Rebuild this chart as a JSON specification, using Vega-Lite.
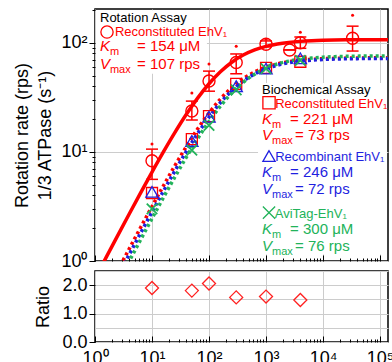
{
  "$schema": "https://vega.github.io/schema/vega-lite/v6.json",
  "padding": {"left": 13, "top": 8, "right": 0, "bottom": 0},
  "spacing": -3,
  "config": {
    "font": "Liberation Sans",
    "view": {"stroke": "black", "strokeWidth": 1.5},
    "axis": {
      "labelFont": "Liberation Sans", "labelFontSize": 18, "labelColor": "black",
      "titleFont": "Liberation Sans", "titleFontSize": 18, "titleFontWeight": "normal", "titleColor": "black",
      "tickColor": "black", "tickWidth": 1, "gridColor": "#cccccc", "gridWidth": 1, "domain": false
    }
  },
  "datasets": {
    "fits": [
      {"conc":1,"rate":0.690,"series":"Rotation"},{"conc":1.585,"rate":1.090,"series":"Rotation"},{"conc":2.512,"rate":1.717,"series":"Rotation"},{"conc":3.981,"rate":2.696,"series":"Rotation"},{"conc":6.31,"rate":4.211,"series":"Rotation"},{"conc":10,"rate":6.524,"series":"Rotation"},{"conc":15.85,"rate":9.985,"series":"Rotation"},{"conc":25.12,"rate":15.005,"series":"Rotation"},{"conc":39.81,"rate":21.979,"series":"Rotation"},{"conc":63.1,"rate":31.099,"series":"Rotation"},{"conc":100,"rate":42.126,"series":"Rotation"},{"conc":158.5,"rate":54.269,"series":"Rotation"},{"conc":251.2,"rate":66.333,"series":"Rotation"},{"conc":398.1,"rate":77.155,"series":"Rotation"},{"conc":631,"rate":86.008,"series":"Rotation"},{"conc":1000,"rate":92.721,"series":"Rotation"},{"conc":1585,"rate":97.524,"series":"Rotation"},{"conc":2512,"rate":100.82,"series":"Rotation"},{"conc":3981,"rate":103.015,"series":"Rotation"},{"conc":6310,"rate":104.451,"series":"Rotation"},{"conc":10000,"rate":105.377,"series":"Rotation"},{"conc":15850,"rate":105.970,"series":"Rotation"},{"conc":25120,"rate":106.348,"series":"Rotation"},{"conc":39810,"rate":106.588,"series":"Rotation"},{"conc":63100,"rate":106.739,"series":"Rotation"},{"conc":100000,"rate":106.836,"series":"Rotation"},{"conc":158500,"rate":106.896,"series":"Rotation"},
      {"conc":1,"rate":0.329,"series":"Reconstituted"},{"conc":1.585,"rate":0.5198,"series":"Reconstituted"},{"conc":2.512,"rate":0.8204,"series":"Reconstituted"},{"conc":3.981,"rate":1.2918,"series":"Reconstituted"},{"conc":6.31,"rate":2.0263,"series":"Reconstituted"},{"conc":10,"rate":3.1602,"series":"Reconstituted"},{"conc":15.85,"rate":4.8849,"series":"Reconstituted"},{"conc":25.12,"rate":7.4504,"series":"Reconstituted"},{"conc":39.81,"rate":11.143,"series":"Reconstituted"},{"conc":63.1,"rate":16.213,"series":"Reconstituted"},{"conc":100,"rate":22.741,"series":"Reconstituted"},{"conc":158.5,"rate":30.488,"series":"Reconstituted"},{"conc":251.2,"rate":38.834,"series":"Reconstituted"},{"conc":398.1,"rate":46.942,"series":"Reconstituted"},{"conc":631,"rate":54.064,"series":"Reconstituted"},{"conc":1000,"rate":59.787,"series":"Reconstituted"},{"conc":1585,"rate":64.067,"series":"Reconstituted"},{"conc":2512,"rate":67.097,"series":"Reconstituted"},{"conc":3981,"rate":69.161,"series":"Reconstituted"},{"conc":6310,"rate":70.530,"series":"Reconstituted"},{"conc":10000,"rate":71.422,"series":"Reconstituted"},{"conc":15850,"rate":71.996,"series":"Reconstituted"},{"conc":25120,"rate":72.363,"series":"Reconstituted"},{"conc":39810,"rate":72.597,"series":"Reconstituted"},{"conc":63100,"rate":72.745,"series":"Reconstituted"},{"conc":100000,"rate":72.839,"series":"Reconstituted"},{"conc":158500,"rate":72.898,"series":"Reconstituted"},
      {"conc":1,"rate":0.2915,"series":"Recombinant"},{"conc":1.585,"rate":0.4609,"series":"Recombinant"},{"conc":2.512,"rate":0.7278,"series":"Recombinant"},{"conc":3.981,"rate":1.1466,"series":"Recombinant"},{"conc":6.31,"rate":1.8005,"series":"Recombinant"},{"conc":10,"rate":2.8125,"series":"Recombinant"},{"conc":15.85,"rate":4.3580,"series":"Recombinant"},{"conc":25.12,"rate":6.6707,"series":"Recombinant"},{"conc":39.81,"rate":10.029,"series":"Recombinant"},{"conc":63.1,"rate":14.698,"series":"Recombinant"},{"conc":100,"rate":20.809,"series":"Recombinant"},{"conc":158.5,"rate":28.212,"series":"Recombinant"},{"conc":251.2,"rate":36.376,"series":"Recombinant"},{"conc":398.1,"rate":44.502,"series":"Recombinant"},{"conc":631,"rate":51.803,"series":"Recombinant"},{"conc":1000,"rate":57.785,"series":"Recombinant"},{"conc":1585,"rate":62.326,"series":"Recombinant"},{"conc":2512,"rate":65.578,"series":"Recombinant"},{"conc":3981,"rate":67.810,"series":"Recombinant"},{"conc":6310,"rate":69.298,"series":"Recombinant"},{"conc":10000,"rate":70.271,"series":"Recombinant"},{"conc":15850,"rate":70.899,"series":"Recombinant"},{"conc":25120,"rate":71.302,"series":"Recombinant"},{"conc":39810,"rate":71.558,"series":"Recombinant"},{"conc":63100,"rate":71.720,"series":"Recombinant"},{"conc":100000,"rate":71.823,"series":"Recombinant"},{"conc":158500,"rate":71.888,"series":"Recombinant"},
      {"conc":1,"rate":0.2525,"series":"AviTag"},{"conc":1.585,"rate":0.3994,"series":"AviTag"},{"conc":2.512,"rate":0.6311,"series":"AviTag"},{"conc":3.981,"rate":0.9953,"series":"AviTag"},{"conc":6.31,"rate":1.5655,"series":"AviTag"},{"conc":10,"rate":2.4516,"series":"AviTag"},{"conc":15.85,"rate":3.8136,"series":"AviTag"},{"conc":25.12,"rate":5.8718,"series":"AviTag"},{"conc":39.81,"rate":8.9038,"series":"AviTag"},{"conc":63.1,"rate":13.207,"series":"AviTag"},{"conc":100,"rate":19.0,"series":"AviTag"},{"conc":158.5,"rate":26.272,"series":"AviTag"},{"conc":251.2,"rate":34.635,"series":"AviTag"},{"conc":398.1,"rate":43.341,"series":"AviTag"},{"conc":631,"rate":51.509,"series":"AviTag"},{"conc":1000,"rate":58.462,"series":"AviTag"},{"conc":1585,"rate":63.904,"series":"AviTag"},{"conc":2512,"rate":67.892,"series":"AviTag"},{"conc":3981,"rate":70.674,"series":"AviTag"},{"conc":6310,"rate":72.551,"series":"AviTag"},{"conc":10000,"rate":73.786,"series":"AviTag"},{"conc":15850,"rate":74.588,"series":"AviTag"},{"conc":25120,"rate":75.103,"series":"AviTag"},{"conc":39810,"rate":75.432,"series":"AviTag"},{"conc":63100,"rate":75.640,"series":"AviTag"},{"conc":100000,"rate":75.773,"series":"AviTag"},{"conc":158500,"rate":75.857,"series":"AviTag"}
    ],
    "rot": [
      {"conc":10,"rate":8.3,"lo":5.6,"hi":10.6,"top":11.8},
      {"conc":50,"rate":23.7,"lo":19.6,"hi":29.2,"top":34.6},
      {"conc":100,"rate":44.6,"lo":36,"hi":55,"top":64},
      {"conc":300,"rate":66,"lo":52,"hi":79,"top":93},
      {"conc":1000,"rate":97,"lo":92,"hi":104,"top":108},
      {"conc":2600,"rate":86,"lo":86,"hi":86},
      {"conc":4000,"rate":100,"lo":89,"hi":113,"top":125},
      {"conc":33000,"rate":110,"lo":84,"hi":142,"top":179}
    ],
    "bio": [
      {"conc":10,"rate":4.2,"series":"Reconstituted"},{"conc":50,"rate":13.1,"series":"Reconstituted"},{"conc":100,"rate":21.3,"series":"Reconstituted"},{"conc":300,"rate":42,"series":"Reconstituted"},{"conc":1000,"rate":59,"series":"Reconstituted"},{"conc":4000,"rate":67,"series":"Reconstituted"},
      {"conc":10,"rate":4.3,"series":"Recombinant"},{"conc":50,"rate":12.6,"series":"Recombinant"},{"conc":100,"rate":21,"series":"Recombinant"},{"conc":300,"rate":40,"series":"Recombinant"},{"conc":1000,"rate":58,"series":"Recombinant"},{"conc":4000,"rate":72,"series":"Recombinant"},
      {"conc":10,"rate":3.0,"series":"AviTag"},{"conc":50,"rate":10.4,"series":"AviTag"},{"conc":100,"rate":17.5,"series":"AviTag"},{"conc":300,"rate":37,"series":"AviTag"},{"conc":1000,"rate":58,"series":"AviTag"},{"conc":4000,"rate":69,"series":"AviTag"}
    ],
    "ratio": [
      {"conc":10,"ratio":1.90},{"conc":50,"ratio":1.81},{"conc":100,"ratio":2.06},{"conc":300,"ratio":1.57},{"conc":1000,"ratio":1.60},{"conc":4000,"ratio":1.48}
    ],
    "boxes": [
      {"conc":1.04,"conc2":92,"rate":52,"rate2":199},
      {"conc":724,"conc2":132000,"rate":1.15,"rate2":42.7}
    ],
    "keys": [
      {"series":"Rotation","conc":1.624,"rate":125.4},
      {"series":"Reconstituted","conc":1129,"rate":28.2},
      {"series":"Recombinant","conc":1129,"rate":9.17},
      {"series":"AviTag","conc":1129,"rate":2.775}
    ],
    "labels": [
      {"kind":"head","series":"Header","text":"Rotation Assay","conc":1.224,"rate":155.7},
      {"kind":"head","series":"Rotation","text":"Reconstituted EhV₁","conc":2.24,"rate":115},
      {"kind":"sym","series":"Rotation","text":"K","conc":1.224,"rate":84},
      {"kind":"sub","series":"Rotation","text":"m","conc":1.83,"rate":84},
      {"kind":"val","series":"Rotation","text":"= 154 μM","conc":5.46,"rate":84},
      {"kind":"sym","series":"Rotation","text":"V","conc":1.224,"rate":57.4},
      {"kind":"sub","series":"Rotation","text":"max","conc":1.83,"rate":57.4},
      {"kind":"val","series":"Rotation","text":"= 107 rps","conc":5.46,"rate":57.4},
      {"kind":"head","series":"Header","text":"Biochemical Assay","conc":851,"rate":33.9},
      {"kind":"head","series":"Reconstituted","text":"Reconstituted EhV₁","conc":1450,"rate":25.4},
      {"kind":"sym","series":"Reconstituted","text":"K","conc":851,"rate":17.9},
      {"kind":"sub","series":"Reconstituted","text":"m","conc":1274,"rate":17.9},
      {"kind":"val","series":"Reconstituted","text":"= 221 μM","conc":2637,"rate":17.9},
      {"kind":"sym","series":"Reconstituted","text":"V","conc":851,"rate":12.8},
      {"kind":"sub","series":"Reconstituted","text":"max","conc":1274,"rate":12.8},
      {"kind":"val","series":"Reconstituted","text":"= 73 rps","conc":3228,"rate":12.8},
      {"kind":"head","series":"Recombinant","text":"Recombinant EhV₁","conc":1450,"rate":8.26},
      {"kind":"sym","series":"Recombinant","text":"K","conc":851,"rate":5.89},
      {"kind":"sub","series":"Recombinant","text":"m","conc":1274,"rate":5.89},
      {"kind":"val","series":"Recombinant","text":"= 246 μM","conc":2637,"rate":5.89},
      {"kind":"sym","series":"Recombinant","text":"V","conc":851,"rate":4.09},
      {"kind":"sub","series":"Recombinant","text":"max","conc":1274,"rate":4.09},
      {"kind":"val","series":"Recombinant","text":"= 72 rps","conc":3228,"rate":4.09},
      {"kind":"head","series":"AviTag","text":"AviTag-EhV₁","conc":1420,"rate":2.50},
      {"kind":"sym","series":"AviTag","text":"K","conc":851,"rate":1.76},
      {"kind":"sub","series":"AviTag","text":"m","conc":1274,"rate":1.76},
      {"kind":"val","series":"AviTag","text":"= 300 μM","conc":2637,"rate":1.76},
      {"kind":"sym","series":"AviTag","text":"V","conc":851,"rate":1.24},
      {"kind":"sub","series":"AviTag","text":"max","conc":1274,"rate":1.24},
      {"kind":"val","series":"AviTag","text":"= 76 rps","conc":3228,"rate":1.24}
    ]
  },
  "vconcat": [
    {
      "width": 293,
      "height": 252,
      "encoding": {
        "x": {"field": "conc", "type": "quantitative",
          "scale": {"type": "log", "domain": [1, 138000], "nice": false},
          "axis": {"title": null, "labels": false, "domain": false, "grid": true,
            "values": [1,2,3,4,5,6,7,8,9,10,20,30,40,50,60,70,80,90,100,200,300,400,500,600,700,800,900,1000,2000,3000,4000,5000,6000,7000,8000,9000,10000,20000,30000,40000,50000,60000,70000,80000,90000,100000],
            "tickSize": {"condition": {"test": "abs(log(datum.value)/LN10 - round(log(datum.value)/LN10)) < 0.001", "value": -6}, "value": -3},
            "gridOpacity": {"condition": {"test": "abs(log(datum.value)/LN10 - round(log(datum.value)/LN10)) < 0.001", "value": 1}, "value": 0}}},
        "y": {"field": "rate", "type": "quantitative",
          "scale": {"type": "log", "domain": [1, 204], "nice": false},
          "axis": {"title": ["Rotation rate (rps)", "1/3 ATPase (s⁻¹)"], "titleLineHeight": 23, "titlePadding": 6,
            "domain": false, "grid": true, "labelPadding": 2,
            "values": [1,2,3,4,5,6,7,8,9,10,20,30,40,50,60,70,80,90,100,200],
            "labelExpr": "abs(log(datum.value)/LN10 - round(log(datum.value)/LN10)) < 0.001 ? '10' + ['⁰','¹','²','³','⁴','⁵'][round(log(datum.value)/LN10)] : ''",
            "tickSize": {"condition": {"test": "abs(log(datum.value)/LN10 - round(log(datum.value)/LN10)) < 0.001", "value": 6}, "value": 3},
            "gridOpacity": {"condition": {"test": "abs(log(datum.value)/LN10 - round(log(datum.value)/LN10)) < 0.001", "value": 1}, "value": 0}}}
      },
      "layer": [
        {"data": {"name": "boxes"}, "mark": {"type": "rect", "fill": "white", "strokeWidth": 0},
          "encoding": {"x2": {"field": "conc2"}, "y2": {"field": "rate2"}}},
        {"data": {"name": "fits"}, "transform": [{"filter": "datum.series == 'Rotation'"}],
          "mark": {"type": "line", "clip": true, "interpolate": "monotone", "strokeWidth": 3.5, "color": "#ff0000"},
          "encoding": {}},
        {"data": {"name": "fits"}, "transform": [{"filter": "datum.series == 'Reconstituted'"}],
          "mark": {"type": "line", "clip": true, "interpolate": "monotone", "strokeWidth": 3.5, "strokeDash": [3, 3], "strokeDashOffset": 0, "color": "#ff0000"},
          "encoding": {}},
        {"data": {"name": "fits"}, "transform": [{"filter": "datum.series == 'Recombinant'"}],
          "mark": {"type": "line", "clip": true, "interpolate": "monotone", "strokeWidth": 3.5, "strokeDash": [3, 3], "strokeDashOffset": 3, "color": "#1f1fe0"},
          "encoding": {}},
        {"data": {"name": "fits"}, "transform": [{"filter": "datum.series == 'AviTag'"}],
          "mark": {"type": "line", "clip": true, "interpolate": "monotone", "strokeWidth": 3.5, "strokeDash": [3, 3], "strokeDashOffset": 1.5, "color": "#22b35a"},
          "encoding": {}},
        {"data": {"name": "bio"}, "transform": [{"filter": "datum.series == 'Reconstituted'"}],
          "mark": {"type": "point", "shape": "square", "size": 121, "filled": false, "strokeWidth": 1.3, "color": "#ff0000", "opacity": 1}},
        {"data": {"name": "bio"}, "transform": [{"filter": "datum.series == 'Recombinant'"}],
          "mark": {"type": "point", "shape": "triangle-up", "size": 150, "filled": false, "strokeWidth": 1.3, "color": "#1f1fe0", "opacity": 1}},
        {"data": {"name": "bio"}, "transform": [{"filter": "datum.series == 'AviTag'"}],
          "mark": {"type": "point", "shape": "M-1,-1L1,1M1,-1L-1,1", "size": 110, "filled": false, "strokeWidth": 1.8, "color": "#22b35a", "opacity": 1}},
        {"data": {"name": "rot"},
          "mark": {"type": "rule", "color": "#ff0000", "strokeWidth": 1.5},
          "encoding": {"y": {"field": "lo", "type": "quantitative", "scale": {"type": "log", "domain": [1, 204], "nice": false}}, "y2": {"field": "hi"}}},
        {"data": {"name": "rot"},
          "mark": {"type": "tick", "orient": "horizontal", "size": 12, "thickness": 1.5, "color": "#ff0000", "opacity": 1},
          "encoding": {"y": {"field": "hi", "type": "quantitative", "scale": {"type": "log", "domain": [1, 204], "nice": false}}}},
        {"data": {"name": "rot"},
          "mark": {"type": "tick", "orient": "horizontal", "size": 12, "thickness": 1.5, "color": "#ff0000", "opacity": 1},
          "encoding": {"y": {"field": "lo", "type": "quantitative", "scale": {"type": "log", "domain": [1, 204], "nice": false}}}},
        {"data": {"name": "rot"},
          "mark": {"type": "point", "shape": "circle", "size": 9, "filled": true, "color": "#ff0000", "opacity": 1},
          "encoding": {"y": {"field": "top", "type": "quantitative", "scale": {"type": "log", "domain": [1, 204], "nice": false}}}},
        {"data": {"name": "rot"},
          "mark": {"type": "point", "shape": "circle", "size": 144, "filled": false, "strokeWidth": 1.4, "color": "#ff0000", "opacity": 1}},
        {"data": {"name": "keys"},
          "mark": {"type": "point", "filled": false, "size": 150, "strokeWidth": 1.3, "opacity": 1},
          "encoding": {
            "shape": {"field": "series", "type": "nominal", "legend": null,
              "scale": {"domain": ["Rotation", "Reconstituted", "Recombinant", "AviTag"], "range": ["circle", "square", "triangle-up", "M-1,-1L1,1M1,-1L-1,1"]}},
            "color": {"field": "series", "type": "nominal", "legend": null,
              "scale": {"domain": ["Rotation", "Reconstituted", "Recombinant", "AviTag", "Header"], "range": ["#ff0000", "#ff0000", "#1f1fe0", "#22b35a", "#000000"]}}}},
        {"data": {"name": "labels"}, "transform": [{"filter": "datum.kind == 'head'"}],
          "mark": {"type": "text", "align": "left", "baseline": "alphabetic", "fontSize": 13, "font": "Liberation Sans"},
          "encoding": {"text": {"field": "text"},
            "color": {"field": "series", "type": "nominal", "legend": null,
              "scale": {"domain": ["Rotation", "Reconstituted", "Recombinant", "AviTag", "Header"], "range": ["#ff0000", "#ff0000", "#1f1fe0", "#22b35a", "#000000"]}}}},
        {"data": {"name": "labels"}, "transform": [{"filter": "datum.kind == 'sym'"}],
          "mark": {"type": "text", "align": "left", "baseline": "alphabetic", "fontSize": 15, "fontStyle": "italic", "font": "Liberation Sans"},
          "encoding": {"text": {"field": "text"},
            "color": {"field": "series", "type": "nominal", "legend": null,
              "scale": {"domain": ["Rotation", "Reconstituted", "Recombinant", "AviTag", "Header"], "range": ["#ff0000", "#ff0000", "#1f1fe0", "#22b35a", "#000000"]}}}},
        {"data": {"name": "labels"}, "transform": [{"filter": "datum.kind == 'sub'"}],
          "mark": {"type": "text", "align": "left", "baseline": "alphabetic", "fontSize": 11, "dy": 4, "font": "Liberation Sans"},
          "encoding": {"text": {"field": "text"},
            "color": {"field": "series", "type": "nominal", "legend": null,
              "scale": {"domain": ["Rotation", "Reconstituted", "Recombinant", "AviTag", "Header"], "range": ["#ff0000", "#ff0000", "#1f1fe0", "#22b35a", "#000000"]}}}},
        {"data": {"name": "labels"}, "transform": [{"filter": "datum.kind == 'val'"}],
          "mark": {"type": "text", "align": "left", "baseline": "alphabetic", "fontSize": 15, "font": "Liberation Sans"},
          "encoding": {"text": {"field": "text"},
            "color": {"field": "series", "type": "nominal", "legend": null,
              "scale": {"domain": ["Rotation", "Reconstituted", "Recombinant", "AviTag", "Header"], "range": ["#ff0000", "#ff0000", "#1f1fe0", "#22b35a", "#000000"]}}}}
      ]
    },
    {
      "width": 293,
      "height": 71,
      "data": {"name": "ratio"},
      "mark": {"type": "point", "shape": "diamond", "size": 169, "filled": false, "strokeWidth": 1.3, "color": "#ff2020", "opacity": 1},
      "encoding": {
        "x": {"field": "conc", "type": "quantitative",
          "scale": {"type": "log", "domain": [1, 138000], "nice": false},
          "axis": {"title": null, "domain": false, "grid": true, "labelFlush": false, "labelOverlap": false, "labelBound": false, "labelPadding": 13,
            "values": [1,2,3,4,5,6,7,8,9,10,20,30,40,50,60,70,80,90,100,200,300,400,500,600,700,800,900,1000,2000,3000,4000,5000,6000,7000,8000,9000,10000,20000,30000,40000,50000,60000,70000,80000,90000,100000],
            "labelExpr": "abs(log(datum.value)/LN10 - round(log(datum.value)/LN10)) < 0.001 ? '10' + ['⁰','¹','²','³','⁴','⁵'][round(log(datum.value)/LN10)] : ''",
            "tickSize": {"condition": {"test": "abs(log(datum.value)/LN10 - round(log(datum.value)/LN10)) < 0.001", "value": -6}, "value": -3},
            "gridOpacity": {"condition": {"test": "abs(log(datum.value)/LN10 - round(log(datum.value)/LN10)) < 0.001", "value": 1}, "value": 0}}},
        "y": {"field": "ratio", "type": "quantitative",
          "scale": {"domain": [0, 2.5], "nice": false, "zero": false},
          "axis": {"title": "Ratio", "titleX": -43, "domain": false, "grid": true, "labelPadding": 2,
            "values": [0, 0.5, 1, 1.5, 2, 2.5],
            "labelExpr": "datum.value % 1 == 0 ? format(datum.value, '.1f') : ''",
            "tickSize": {"condition": {"test": "datum.value % 1 == 0", "value": 6}, "value": 0}}}
      }
    }
  ]
}
